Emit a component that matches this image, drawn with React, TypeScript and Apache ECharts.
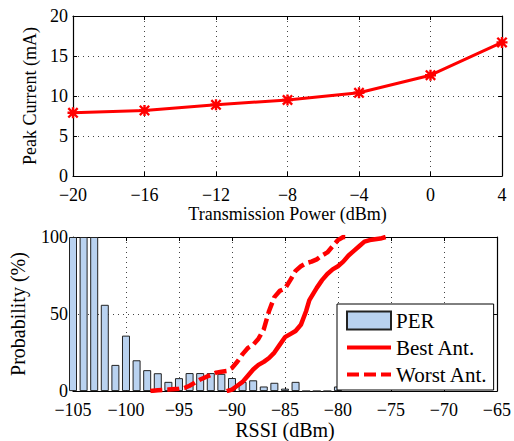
import React, { useEffect, useRef } from "react";
import * as echarts from "echarts";

const powerLevels = [-20, -16, -12, -8, -4, 0, 4];
const peakCurrent = [7.9, 8.2, 8.9, 9.5, 10.4, 12.6, 16.7];

const rssiBins = [-105, -104, -103, -102, -101, -100, -99, -98, -97, -96, -95, -94, -93, -92, -91, -90, -89, -88, -87, -86, -85, -84, -83, -82, -81, -80];
const perValues = [100, 100, 100, 56, 17, 36, 20, 13.6, 11.6, 6, 8.4, 11.7, 11.7, 11.7, 11.2, 8.5, 6, 7, 3, 5.4, 1.6, 6, 0, 0, 0, 3];

const bestRssi = [-90.5, -90, -89.5, -89, -88.5, -88, -87.5, -87, -86.5, -86, -85.5, -85, -84.5, -84, -83.5, -83, -82.7, -82, -81.5, -81, -80.5, -80, -79.5, -79, -78.5, -78, -77.5, -77, -76, -75.5];
const bestProb = [0, 1, 3.5, 6, 10, 14, 17, 19, 21.5, 25, 30, 35, 37, 39, 43, 52, 59, 67, 72, 76, 79, 81, 84, 88, 91, 94, 97, 98, 99, 100];

const worstRssi = [-97.7, -97, -96, -95, -94.5, -94, -93.5, -93, -92.5, -92, -91.5, -91, -90.5, -90, -89.5, -89, -88.5, -88, -87.5, -87, -86.5, -86, -85.5, -85, -84.5, -84, -83.5, -83, -82.5, -82, -81.5, -81, -80.5, -80, -79.5, -79];
const worstProb = [0, 0.5, 1, 1.5, 2, 3.5, 5.5, 7.5, 9, 10.5, 12, 12.5, 13, 15, 19, 24, 28, 30, 34, 40, 52, 61, 65, 66.5, 72, 78, 81, 83, 84, 85.5, 88, 90, 94, 98, 100, 100];

const FONT = "Liberation Serif";
const minusFmt = (v: number) => String(v).replace("-", "\u2212");
const gridLine = { show: true, lineStyle: { color: "#444", type: [1, 4] as any, width: 1 } };
const axisLineStyle = { show: true, onZero: false, lineStyle: { color: "#000", width: 1.2 } };
const tickIn = { show: true, inside: true, length: 4, lineStyle: { color: "#000" } };
const xLabel = { fontFamily: FONT, fontSize: 18, color: "#000", margin: 10, formatter: minusFmt };
const yLabel = { fontFamily: FONT, fontSize: 18, color: "#000", margin: 5 };

export default function App() {
  const ref = useRef<HTMLDivElement>(null);
  useEffect(() => {
    if (!ref.current) return;
    const chart = echarts.init(ref.current, null, { renderer: "svg" });
    const asterisk =
      "path://M3.9,0H6.1V3.9H10V6.1H6.1V10H3.9V6.1H0V3.9H3.9Z" +
      "M0,1.5L1.5,0L5,3.5L8.5,0L10,1.5L6.5,5L10,8.5L8.5,10L5,6.5L1.5,10L0,8.5L3.5,5Z";
    const solidIcon = "path://M0,0H44V4H0Z";
    const dashIcon = "path://M0,0H12V4H0ZM17,0H29V4H17ZM34,0H44V4H34Z";
    chart.setOption({
      animation: false,
      backgroundColor: "#fff",
      textStyle: { fontFamily: FONT, color: "#000" },
      grid: [
        { left: 73, right: 12, top: 16, height: 160 },
        { left: 73, right: 12, top: 237, height: 155 },
      ],
      xAxis: [
        {
          type: "value", gridIndex: 0, min: -20, max: 4, interval: 4,
          axisLine: axisLineStyle, axisTick: tickIn, splitLine: gridLine,
          axisLabel: xLabel,
          name: "Transmission Power (dBm)", nameLocation: "middle", nameGap: 23,
          nameTextStyle: { fontFamily: FONT, fontSize: 18, color: "#000" },
        },
        {
          type: "value", gridIndex: 0, position: "top", min: -20, max: 4, interval: 4,
          axisLine: axisLineStyle, axisTick: tickIn, splitLine: { show: false }, axisLabel: { show: false },
        },
        {
          type: "value", gridIndex: 1, min: -105, max: -65, interval: 5,
          axisLine: axisLineStyle, axisTick: tickIn, splitLine: gridLine,
          axisLabel: xLabel,
          name: "RSSI (dBm)", nameLocation: "middle", nameGap: 28,
          nameTextStyle: { fontFamily: FONT, fontSize: 20, color: "#000" },
        },
        {
          type: "value", gridIndex: 1, position: "top", min: -105, max: -65, interval: 5,
          axisLine: axisLineStyle, axisTick: tickIn, splitLine: { show: false }, axisLabel: { show: false },
        },
      ],
      yAxis: [
        {
          type: "value", gridIndex: 0, min: 0, max: 20, interval: 5,
          axisLine: axisLineStyle, axisTick: tickIn, splitLine: gridLine,
          axisLabel: yLabel,
          name: "Peak Current (mA)", nameLocation: "middle", nameGap: 30,
          nameTextStyle: { fontFamily: FONT, fontSize: 18, color: "#000" },
        },
        {
          type: "value", gridIndex: 0, position: "right", min: 0, max: 20, interval: 5,
          axisLine: axisLineStyle, axisTick: tickIn, splitLine: { show: false }, axisLabel: { show: false },
        },
        {
          type: "value", gridIndex: 1, min: 0, max: 100, interval: 50,
          axisLine: axisLineStyle, axisTick: tickIn, splitLine: gridLine,
          axisLabel: yLabel,
          name: "Probability (%)", nameLocation: "middle", nameGap: 45,
          nameTextStyle: { fontFamily: FONT, fontSize: 20, color: "#000" },
        },
        {
          type: "value", gridIndex: 1, position: "right", min: 0, max: 100, interval: 50,
          axisLine: axisLineStyle, axisTick: tickIn, splitLine: { show: false }, axisLabel: { show: false },
        },
      ],
      legend: {
        orient: "vertical", left: 337, top: 304,
        backgroundColor: "#fff", borderColor: "#000", borderWidth: 1,
        padding: [6, 6, 5, 9], itemWidth: 44, itemHeight: 18, itemGap: 6,
        textStyle: { fontFamily: FONT, fontSize: 21, color: "#000" },
        data: [
          { name: "PER", icon: "rect" },
          { name: "Best Ant.", icon: solidIcon },
          { name: "Worst Ant.", icon: dashIcon },
        ],
      },
      series: [
        {
          type: "line", name: "Peak Current", xAxisIndex: 0, yAxisIndex: 0,
          data: powerLevels.map((x, i) => [x, peakCurrent[i]]),
          lineStyle: { color: "#ff0000", width: 3 },
          itemStyle: { color: "#ff0000", borderWidth: 0 },
          symbol: asterisk, symbolSize: 11, showSymbol: true, z: 5,
        },
        {
          type: "bar", name: "PER", xAxisIndex: 2, yAxisIndex: 2,
          data: rssiBins.map((x, i) => [x, perValues[i]]),
          barWidth: 8,
          itemStyle: { color: "#b9d2f0", borderColor: "#222", borderWidth: 1 },
          clip: true, z: 2,
        },
        {
          type: "line", name: "Best Ant.", xAxisIndex: 2, yAxisIndex: 2,
          data: bestRssi.map((x, i) => [x, bestProb[i]]),
          symbol: "none", lineStyle: { color: "#ff0000", width: 4.5 },
          itemStyle: { color: "#ff0000" }, z: 3,
        },
        {
          type: "line", name: "Worst Ant.", xAxisIndex: 2, yAxisIndex: 2,
          data: worstRssi.map((x, i) => [x, worstProb[i]]),
          symbol: "none", lineStyle: { color: "#ff0000", width: 4.5, type: [12, 5] },
          itemStyle: { color: "#ff0000" }, z: 3,
        },
      ],
    });
    return () => chart.dispose();
  }, []);
  return <div ref={ref} style={{ position: "fixed", left: 0, top: 0, width: 514, height: 441 }} />;
}
